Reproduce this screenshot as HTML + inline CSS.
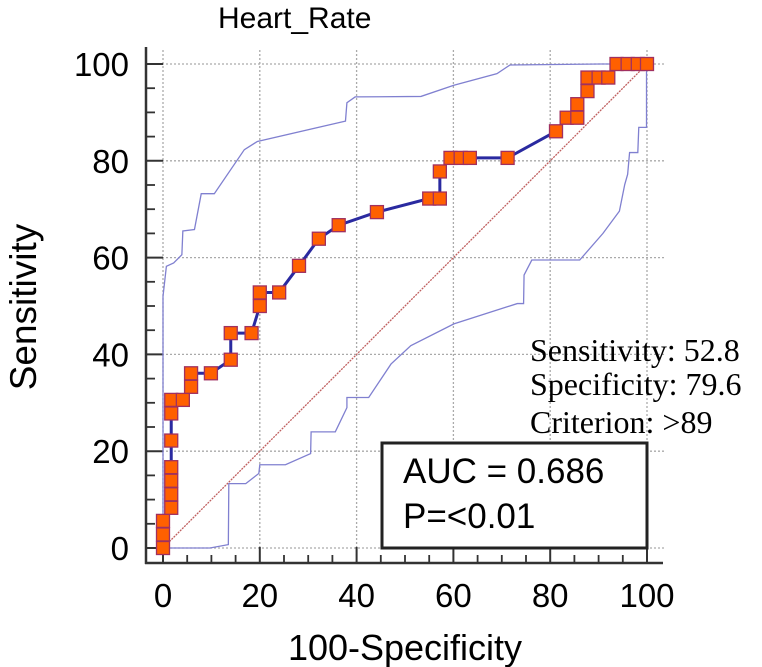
<!DOCTYPE html>
<html><head><meta charset="utf-8"><style>
html,body{margin:0;padding:0;background:#fff}
svg{display:block}
text{font-family:"Liberation Sans",Arial,sans-serif}
</style></head><body>
<svg id="chart" width="762" height="667" viewBox="0 0 762 667" xmlns="http://www.w3.org/2000/svg">
<text x="218" y="28" font-size="30" fill="#000">Heart_Rate</text>
<g id="grid"></g>
<g id="axes"></g>
<g id="series"></g>
<text transform="translate(36,307) rotate(-90)" text-anchor="middle" font-size="37" fill="#000">Sensitivity</text>
<text x="405" y="660" text-anchor="middle" font-size="36" fill="#000">100-Specificity</text>
<g fill="#000">
<text x="530" y="361" font-size="32" style="font-family:'Liberation Serif',serif">Sensitivity: 52.8</text>
<text x="530" y="395" font-size="32" style="font-family:'Liberation Serif',serif">Specificity: 79.6</text>
<text x="530" y="433" font-size="32" style="font-family:'Liberation Serif',serif">Criterion: &gt;89</text>
</g>
<g>
<rect x="382" y="443" width="265" height="105" fill="#fff" stroke="#222" stroke-width="3"/>
<text x="403" y="483" font-size="35" fill="#000">AUC = 0.686</text>
<text x="403" y="528" font-size="35" fill="#000">P=&lt;0.01</text>
</g>
</svg>
<script>
const xTicks = [0,20,40,60,80,100];
const yTicks = [0,20,40,60,80,100];
const rocX = [0,0,0,1.7,1.7,1.7,1.7,1.7,1.7,1.7,4.1,5.8,5.8,9.9,14,14,18.3,20,20,24,28.1,32.2,36.3,44.2,55,57.2,57.2,59.4,61.5,63.4,71.2,81.2,83.4,85.6,85.6,87.7,87.7,90,92,93.7,96,98.1,100];
const rocY = [0,2.8,5.6,8.3,11.1,13.9,16.7,22.2,27.8,30.6,30.6,33.3,36.1,36.1,38.9,44.4,44.4,50,52.8,52.8,58.3,63.9,66.7,69.4,72.2,72.2,77.8,80.6,80.6,80.6,80.6,86.1,88.9,88.9,91.7,94.4,97.2,97.2,97.2,100,100,100,100];
const upX = [0,0,0.7,2.2,3.9,4.1,6.5,7.9,10.6,16.8,19.5,37.7,38,39.7,53.3,60.1,69,71.7,90.4,100];
const upY = [0,52,58.2,58.9,60.6,65.5,65.8,73.2,73.2,82.3,84,88.2,92,93.2,93.3,95.6,98,99.8,100,100];
const loX = [0,9.7,13.5,13.6,17.1,19.8,20,25.3,30.5,30.6,35.6,38,38,42.5,47.1,51.2,60.1,73.2,74.5,74.6,76.2,86.1,90.9,94.3,95.4,96,96.4,98.1,98.3,99.9,99.9];
const loY = [0,0,0.7,13.3,13.3,15.4,17.2,17.2,19.5,24,24,29,31.1,31.1,38,41.8,46.3,50.5,50.5,56.4,59.5,59.5,65,69.6,75.1,77.2,81.7,81.7,86.9,86.9,100];

const NS='http://www.w3.org/2000/svg';
const X0=163,X1=647,Y0=548,Y1=64;
function sx(v){return X0+(X1-X0)*v/100;}
function sy(v){return Y0-(Y0-Y1)*v/100;}
function mk(tag,attrs,parent){const e=document.createElementNS(NS,tag);for(const k in attrs)e.setAttribute(k,attrs[k]);parent.appendChild(e);return e;}
const grid=document.getElementById('grid'),axes=document.getElementById('axes'),series=document.getElementById('series');

xTicks.forEach(t=>{
  const l=mk('line',{x1:sx(t),x2:sx(t),y1:50,y2:556,stroke:'#aaa','stroke-width':1.3,'stroke-dasharray':'2,2'},grid);
  
  
  const tk=mk('line',{x1:sx(t),x2:sx(t),y1:563,y2:547,stroke:'#333','stroke-width':2},axes);
  
  
  const tx=mk('text',{x:sx(t),y:607,'text-anchor':'middle','font-size':33,fill:'#000'},axes);
  tx.textContent=t;
  
  
});
yTicks.forEach(t=>{
  const l=mk('line',{x1:150,x2:665,y1:sy(t),y2:sy(t),stroke:'#aaa','stroke-width':1.3,'stroke-dasharray':'2,2'},grid);
  
  
  const tk=mk('line',{x1:146,x2:163,y1:sy(t),y2:sy(t),stroke:'#333','stroke-width':2},axes);
  
  
  const tx=mk('text',{x:129,y:sy(t)+12,'text-anchor':'end','font-size':33,fill:'#000'},axes);
  tx.textContent=t;
  
  
});
for(let m=5;m<100;m+=5){ if(m%20===0)continue;
  const a=mk('line',{x1:146,x2:155,y1:sy(m),y2:sy(m),stroke:'#333','stroke-width':1.8},axes);
  
  
  const b=mk('line',{x1:sx(m),x2:sx(m),y1:563,y2:555,stroke:'#333','stroke-width':1.8},axes);
  
  
}
const ya=mk('line',{x1:146,x2:146,y1:47,y2:564,stroke:'#333','stroke-width':2.5},axes);


const xa=mk('line',{x1:145,x2:663,y1:563,y2:563,stroke:'#333','stroke-width':2.5},axes);



const diag=mk('line',{x1:sx(0),y1:sy(0),x2:sx(100),y2:sy(100),stroke:'#c06060','stroke-width':1.3,'stroke-dasharray':'2,1'},series);


function pts(xs,ys){return xs.map((v,i)=>sx(v)+','+sy(ys[i])).join(' ');}
const up=mk('polyline',{points:pts(upX,upY),fill:'none',stroke:'#8080d0','stroke-width':1.3},series);


const lo=mk('polyline',{points:pts(loX,loY),fill:'none',stroke:'#8080d0','stroke-width':1.3},series);


const roc=mk('polyline',{points:pts(rocX,rocY),fill:'none',stroke:'#2a2aa0','stroke-width':3},series);


rocX.forEach((v,i)=>{
  const r=mk('rect',{x:sx(v)-6.5,y:sy(rocY[i])-6.5,width:13,height:13,fill:'#ff6000',stroke:'#a03060','stroke-width':1.3},series);
  
  
});
</script>
</body></html>
